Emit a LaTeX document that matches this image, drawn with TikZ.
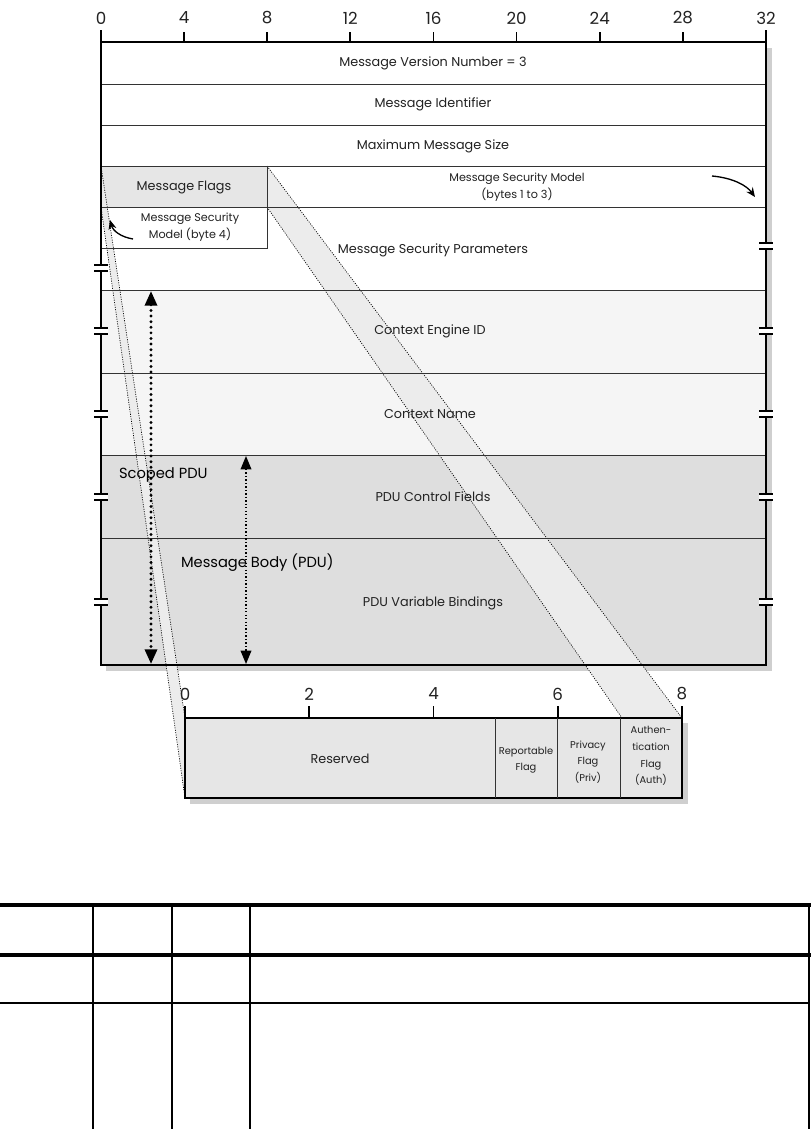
\documentclass[tikz,border=0pt]{standalone}
\usepackage{fontspec}
\setmainfont{Poppins}
\usetikzlibrary{arrows.meta}
\definecolor{shadowgray}{HTML}{CFCFCF}
\definecolor{flaggray}{HTML}{E6E6E6}
\definecolor{bandgray}{HTML}{ECECEC}
\definecolor{ctxgray}{HTML}{F5F5F5}
\definecolor{pdugray}{HTML}{DEDEDE}
\definecolor{inkgray}{HTML}{222222}

\begin{document}
\begin{tikzpicture}[x=0.75pt,y=-0.75pt,line width=0.9pt,
  field/.style={font=\fontsize{9.6}{11}\selectfont,text=inkgray,align=center},
  smallfield/.style={font=\fontsize{8.4}{13}\selectfont,text=inkgray,align=center},
  tinyfield/.style={font=\fontsize{7.4}{12.4}\selectfont,text=inkgray,align=center},
  bignum/.style={font=\fontsize{12.5}{14}\selectfont,text=inkgray},
  biglabel/.style={font=\fontsize{11}{13}\selectfont,text=black,anchor=west},
  rowline/.style={line width=0.6pt,draw=black!80},
  bandedge/.style={line width=0.5pt,dash pattern=on 0.8pt off 1pt},
  breakmark/.style={line width=1.4pt}]
\useasboundingbox (0,0) rectangle (811,1129);
% 阴影
\fill[shadowgray] (106,48) rectangle (772,671);
% 各行底色
\fill[white] (101,42) rectangle (766,290);
\fill[ctxgray] (101,290) rectangle (766,455);
\fill[pdugray] (101,455) rectangle (766,665);
% 标志字段
\fill[flaggray] (101,166) rectangle (267,207);
\fill[white] (101,207) rectangle (267,248);
% 展开框的阴影
\fill[shadowgray] (190,723) rectangle (688,804);
\fill[flaggray] (185,718) rectangle (682,798);
% 投影带
\coordinate (fltl) at (101,166);
\coordinate (flbl) at (101,207);
\coordinate (fltr) at (267,166);
\coordinate (flbr) at (267,207);
\coordinate (extl) at (185,718);
\coordinate (exbl) at (185,798);
\coordinate (extr) at (682,718);
\coordinate (exmid) at (622,718);
\fill[bandgray] (fltl) -- (extl) -- (exbl) -- (flbl) -- cycle;
\fill[bandgray] (fltr) -- (extr) -- (exmid) -- (flbr) -- cycle;
\draw[bandedge] (fltl) -- (extl);
\draw[bandedge] (flbl) -- (exbl);
\draw[bandedge] (fltr) -- (extr);
\draw[bandedge] (flbr) -- (exmid);
% 行分隔线
\foreach \y in {84,125,166,290,373,455,538}
  \draw[rowline] (101,\y) -- (766,\y);
\draw[rowline] (267,207) -- (766,207);
\draw[rowline] (101,166) rectangle (267,207);
\draw[rowline] (101,207) rectangle (267,248);
% 外框与标尺
\draw[line width=1.5pt] (101,30) -- (101,665) -- (766,665) -- (766,30);
\draw[line width=1.5pt] (101,42) -- (766,42);
\foreach \b in {4,8,...,28}
  \draw[line width=1.3pt] (101+20.78*\b,32) -- (101+20.78*\b,42);
\foreach \b in {0,4,...,32}
  \node[bignum] (n\b) at (101+20.78*\b,18) {\b};
% 断开符号
\foreach \y in {268,331,414,497,602} {
  \fill[white] (94,\y-2) rectangle (108,\y+2);
  \draw[breakmark] (94,\y-3) -- (108,\y-3);
  \draw[breakmark] (94,\y+3) -- (108,\y+3);
}
\foreach \y in {246,331,414,497,602} {
  \fill[white] (759,\y-2) rectangle (773,\y+2);
  \draw[breakmark] (759,\y-3) -- (773,\y-3);
  \draw[breakmark] (759,\y+3) -- (773,\y+3);
}
% 字段名
\node[field] (ver) at (433,63) {Message Version Number = 3};
\node[field] (mid) at (433,104) {Message Identifier};
\node[field] (mms) at (433,146) {Maximum Message Size};
\node[field] (flags) at (184,187) {Message Flags};
\node[smallfield] (msm) at (517,187) {Message Security Model\\(bytes 1 to 3)};
\node[smallfield] (msm4) at (190,227) {Message Security\\Model (byte 4)};
\node[field] (msp) at (433,250) {Message Security Parameters};
\node[field] (ceid) at (430,331) {Context Engine ID};
\node[field] (cname) at (430,414) {Context Name};
\node[field] (pducf) at (433,497) {PDU Control Fields};
\node[field] (pduvb) at (433,603) {PDU Variable Bindings};
\node[biglabel] (scoped) at (114,475) {Scoped PDU};
\node[biglabel] (body) at (176,563) {Message Body (PDU)};
% 弯箭头
\draw[line width=1pt,-{Stealth[length=7pt,width=6pt]}] (712,176) .. controls (734,178) and (747,186) .. (755,197);
\draw[line width=1pt,-{Stealth[length=7pt,width=6pt]}] (133,239) .. controls (121,237) and (113,231) .. (110,220);
% 点线双箭头
\coordinate (sptop) at (151,291);
\coordinate (spbot) at (151,664);
\coordinate (mbtop) at (246,456);
\coordinate (mbbot) at (246,664);
\draw[line width=2.4pt,line cap=round,dash pattern=on 0pt off 4.2pt,
  {Triangle[length=11pt,width=9pt]}-{Triangle[length=11pt,width=9pt]}] (sptop) -- (spbot);
\draw[line width=1pt,dash pattern=on 1pt off 1.6pt,
  {Triangle[length=10pt,width=8pt]}-{Triangle[length=10pt,width=8pt]}] (mbtop) -- (mbbot);
% 展开的标志字节
\draw[line width=1.4pt] (extl) rectangle (682,798);
\foreach \x in {495,557,620}
  \draw[rowline] (\x,718) -- (\x,798);
\foreach \b in {0,2,...,8} {
  \draw[line width=1.3pt] (185+62.125*\b,706) -- (185+62.125*\b,718);
  \node[bignum] (m\b) at (185+62.125*\b,694) {\b};
}
\node[field] (res) at (340,759) {Reserved};
\node[tinyfield] (rep) at (526,760) {Reportable\\Flag};
\node[tinyfield] (priv) at (588,762) {Privacy\\Flag\\(Priv)};
\node[tinyfield] (auth) at (651,756) {Authen-\\tication\\Flag\\(Auth)};
% 下方表格
\fill (0,903) rectangle (811,907);
\fill (0,953) rectangle (811,957);
\draw[line width=1.2pt] (0,1003) -- (809,1003);
\foreach \x in {93,172,250,809}
  \draw[line width=1.2pt] (\x,907) -- (\x,1129);
\end{tikzpicture}
\end{document}
